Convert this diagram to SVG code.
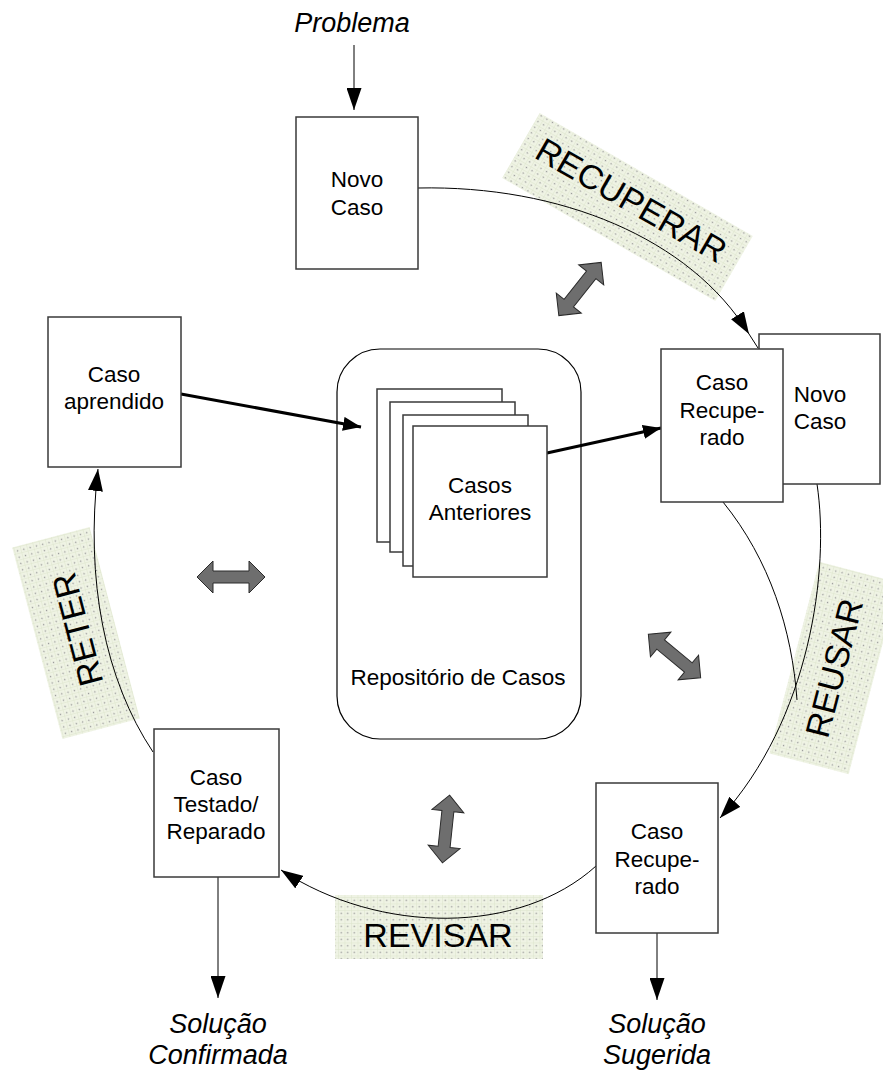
<svg xmlns="http://www.w3.org/2000/svg" xmlns:xlink="http://www.w3.org/1999/xlink" width="883" height="1074" viewBox="0 0 883 1074">
<style>
.box{fill:#fff;stroke:#3a3a3a;stroke-width:1.5}
.t{font-family:"Liberation Sans",Arial,sans-serif;font-size:22.5px;fill:#000;text-anchor:middle}
.it{font-family:"Liberation Sans",Arial,sans-serif;font-style:italic;fill:#000;text-anchor:middle}
.lbl{font-family:"Liberation Sans",Arial,sans-serif;font-size:34px;fill:#000;text-anchor:middle}
.pat{fill:url(#dots);stroke:none}
.thin{fill:none;stroke:#000;stroke-width:1}
.thick{fill:none;stroke:#000;stroke-width:3}
.dbl{fill:#6e6e6e;stroke:#2a2a2a;stroke-width:1}
</style>
<defs>
<pattern id="dots" width="6.5" height="6.5" patternUnits="userSpaceOnUse">
<rect width="6.5" height="6.5" fill="#eff3e4"/>
<path d="M0,0.3H6.5M0.3,0V6.5" stroke="#dde4cc" stroke-width="0.6"/>
<circle cx="3.25" cy="3.25" r="0.8" fill="#999"/>
</pattern>
<marker id="ah" markerUnits="userSpaceOnUse" markerWidth="22" markerHeight="15" refX="22" refY="7.5" orient="auto">
<path d="M0,0L22,7.5L0,15Z" fill="#000"/>
</marker>
<marker id="ahk" markerUnits="userSpaceOnUse" markerWidth="18" markerHeight="14" refX="18" refY="7" orient="auto">
<path d="M0,0L18,7L0,14Z" fill="#000"/>
</marker>
<path id="dblarrow" d="M-34,0L-18,-16L-18,-6L18,-6L18,-16L34,0L18,16L18,6L-18,6L-18,16Z"/>
</defs>
<rect width="883" height="1074" fill="#fff"/>

<g id="labels">
<g id="label-recuperar" transform="translate(627.5,207) rotate(30)">
<rect class="pat" x="-123" y="-37.5" width="246" height="75"/>
</g>
<g id="label-reter" transform="translate(76,633) rotate(-104.7)">
<rect class="pat" x="-99" y="-40" width="198" height="80"/>
</g>
<g id="label-reusar" transform="translate(834,668) rotate(-75.4)">
<rect class="pat" x="-99" y="-41" width="198" height="82"/>
</g>
<g id="label-revisar">
<rect class="pat" x="335" y="895" width="208" height="64"/>
</g>
</g>

<g id="connectors">
<line class="thin" x1="354" y1="45" x2="354" y2="110" marker-end="url(#ah)"/>
<path class="thin" d="M418,188 C560,185 690,238 749,334" marker-end="url(#ah)"/>
<line class="thin" x1="749" y1="334" x2="758" y2="348"/>
<path class="thin" d="M817,484 C830,570 810,720 720,818" marker-end="url(#ah)"/>
<path class="thin" d="M723,502 C770,560 792,630 797,700"/>
<path class="thin" d="M596,866 C520,935 380,935 281,870" marker-end="url(#ah)"/>
<path class="thin" d="M153,752 C105,680 85,580 98,469" marker-end="url(#ah)"/>
<line class="thin" x1="218" y1="877" x2="218" y2="998" marker-end="url(#ah)"/>
<line class="thin" x1="657" y1="933" x2="657" y2="1000" marker-end="url(#ah)"/>
<line class="thick" x1="181" y1="394" x2="361" y2="427" marker-end="url(#ahk)"/>
<line class="thick" x1="547" y1="453" x2="661" y2="428" marker-end="url(#ahk)"/>
</g>

<g id="label-texts">
<text class="lbl" transform="translate(627.5,207) rotate(30)" x="0" y="4">RECUPERAR</text>
<text class="lbl" transform="translate(76,633) rotate(-104.7)" x="3" y="14">RETER</text>
<text class="lbl" transform="translate(834,668) rotate(-75.4)" x="0" y="12">REUSAR</text>
<text class="lbl" x="438" y="947">REVISAR</text>
</g>

<g id="exchange-arrows">
<use class="dbl" xlink:href="#dblarrow" transform="translate(580,289) rotate(-51.5)"/>
<use class="dbl" xlink:href="#dblarrow" transform="translate(231,577)"/>
<use class="dbl" xlink:href="#dblarrow" transform="translate(674.5,656) rotate(39.7)"/>
<use class="dbl" xlink:href="#dblarrow" transform="translate(446,829) rotate(96)"/>
</g>

<g id="problema"><text class="it" style="font-size:27px" x="352" y="32">Problema</text></g>

<g id="novo-caso">
<rect class="box" x="296" y="117" width="122" height="152"/>
<text class="t" x="357" y="187">Novo</text>
<text class="t" x="357" y="215">Caso</text>
</g>

<g id="novo-caso-2">
<rect class="box" x="759" y="334" width="121" height="150"/>
<text class="t" x="820" y="402">Novo</text>
<text class="t" x="820" y="429">Caso</text>
</g>

<g id="caso-recuperado-1">
<rect class="box" x="661" y="349" width="122" height="153"/>
<text class="t" x="722" y="390">Caso</text>
<text class="t" x="722" y="418">Recupe-</text>
<text class="t" x="722" y="445">rado</text>
</g>

<g id="caso-aprendido">
<rect class="box" x="48" y="317" width="133" height="150"/>
<text class="t" x="114" y="382">Caso</text>
<text class="t" x="114" y="409">aprendido</text>
</g>

<g id="repositorio">
<rect x="337" y="349" width="244" height="390" rx="43" ry="43" fill="none" stroke="#000" stroke-width="1.2"/>
<text class="t" x="458" y="685">Repositório de Casos</text>
</g>

<g id="casos-anteriores">
<rect class="box" x="377" y="389" width="125" height="153"/>
<rect class="box" x="390" y="402" width="125" height="150"/>
<rect class="box" x="403" y="415" width="125" height="151"/>
<rect class="box" x="413" y="426" width="134" height="151"/>
<text class="t" x="480" y="493">Casos</text>
<text class="t" x="480" y="520">Anteriores</text>
</g>

<g id="caso-testado">
<rect class="box" x="154" y="729" width="125" height="148"/>
<text class="t" x="216" y="785">Caso</text>
<text class="t" x="216" y="812">Testado/</text>
<text class="t" x="216" y="839">Reparado</text>
</g>

<g id="caso-recuperado-2">
<rect class="box" x="596" y="783" width="122" height="150"/>
<text class="t" x="657" y="839">Caso</text>
<text class="t" x="657" y="867">Recupe-</text>
<text class="t" x="657" y="894">rado</text>
</g>

<g id="solucao-confirmada">
<text class="it" style="font-size:27px" x="218" y="1033">Solução</text>
<text class="it" style="font-size:27px" x="218" y="1064">Confirmada</text>
</g>

<g id="solucao-sugerida">
<text class="it" style="font-size:27px" x="657" y="1033">Solução</text>
<text class="it" style="font-size:27px" x="657" y="1064">Sugerida</text>
</g>
</svg>
